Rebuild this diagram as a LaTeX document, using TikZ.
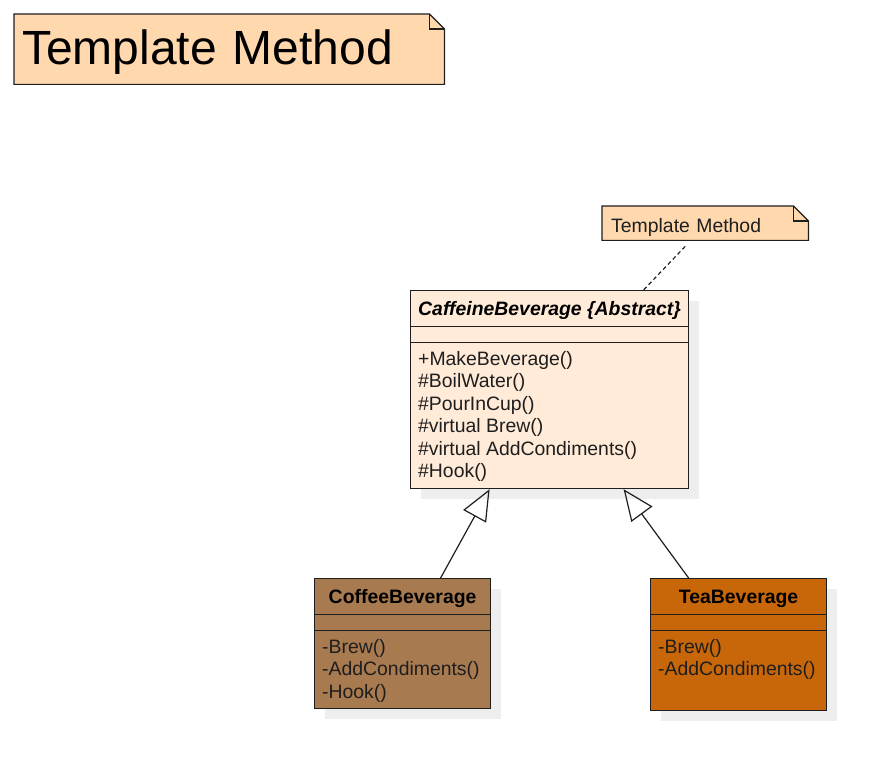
\documentclass[tikz,border=0pt]{standalone}
\usepackage{fontspec}
\setmainfont{Liberation Sans}
\usepackage{tikz}
\usetikzlibrary{arrows.meta,backgrounds,shadows}

\definecolor{notecol}{RGB}{255,216,174}
\definecolor{abscol}{RGB}{255,235,216}
\definecolor{coffeecol}{RGB}{168,122,80}
\definecolor{teacol}{RGB}{200,103,9}
\definecolor{shadecol}{RGB}{238,238,238}
\definecolor{inkcol}{RGB}{30,30,30}

\tikzset{
  umlfont/.style={font=\fontsize{19.4bp}{22.5bp}\selectfont},
  classbox/.style={draw=inkcol,line width=1.2bp,anchor=north west,inner sep=0pt,
    general shadow={fill=shadecol,shadow xshift=10bp,shadow yshift=-10bp}},
  classname/.style={anchor=base,inner sep=0pt,font=\fontsize{19.4bp}{22.5bp}\selectfont\bfseries},
  members/.style={umlfont,anchor=north west,align=left,inner sep=0pt,text=inkcol},
  notetext/.style={anchor=north west,inner xsep=8bp,inner ysep=0pt,text depth=0pt,align=left},
  notebox/.style={draw=inkcol,fill=notecol,line width=1.2bp},
  inherit/.style={-{Triangle[open,length=31bp,width=26bp]},line width=1.2bp,draw=inkcol},
  notelink/.style={dash pattern=on 4bp off 3bp,line width=1.2bp,draw=inkcol},
}

\begin{document}
\begin{tikzpicture}[line join=miter]
\useasboundingbox (0,0) rectangle (886bp,771bp);
%%
  \node (title) at (14bp,757bp) [notetext,text width=414bp,minimum height=70bp,text height=30bp,
    font=\fontsize{48bp}{50bp}\selectfont] {Template Method};
  \node (tmnote) at (602bp,565bp) [notetext,inner xsep=9bp,text width=188bp,minimum height=34bp,
    text height=18bp,umlfont,text=inkcol] {Template Method};
\begin{scope}[on background layer]
  \foreach \n in {title,tmnote} {
    \filldraw [notebox] (\n.north west) -- ([xshift=-15bp]\n.north east) -- ([yshift=-15bp]\n.north east)
      -- (\n.south east) -- (\n.south west) -- cycle;
    \draw [line width=1.2bp,draw=inkcol] ([xshift=-15bp]\n.north east) |- ([yshift=-15bp]\n.north east);
  }
\end{scope}
%%
  \node (abs) at (410bp,481bp) [classbox,fill=abscol,minimum width=278bp,minimum height=198bp] {};
  \node (coffee) at (314bp,193bp) [classbox,fill=coffeecol,minimum width=176bp,minimum height=130bp] {};
  \node (tea) at (650bp,193bp) [classbox,fill=teacol,minimum width=176bp,minimum height=132bp] {};
  \foreach \c in {abs,coffee,tea}
    \foreach \dy in {36.5,52.5}
      \draw [line width=1.2bp,draw=inkcol] ([yshift=-\dy bp]\c.north west) -- ([yshift=-\dy bp]\c.north east);
%%
  \node (absname) at ([yshift=-25.5bp]abs.north) [classname] {\itshape CaffeineBeverage \{Abstract\}};
  \node (absops) at ([shift={(8bp,-61bp)}]abs.north west) [members]
    {+MakeBeverage()\\\#BoilWater()\\\#PourInCup()\\\#virtual Brew()\\\#virtual AddCondiments()\\\#Hook()};
  \node (coffeename) at ([yshift=-25.5bp]coffee.north) [classname] {CoffeeBeverage};
  \node (coffeeops) at ([shift={(8bp,-61bp)}]coffee.north west) [members] {-Brew()\\-AddCondiments()\\-Hook()};
  \node (teaname) at ([yshift=-25.5bp]tea.north) [classname] {TeaBeverage};
  \node (teaops) at ([shift={(8bp,-61bp)}]tea.north west) [members] {-Brew()\\-AddCondiments()};
%%
  \draw [inherit] ([xshift=38bp]coffee.north) -- ([xshift=-60bp]abs.south);
  \draw [inherit] ([xshift=-50bp]tea.north) -- ([xshift=74bp]abs.south);
  \draw [notelink] ([shift={(-20bp,-6bp)}]tmnote.south) -- ([xshift=94bp]abs.north);
%
\end{tikzpicture}
\end{document}
